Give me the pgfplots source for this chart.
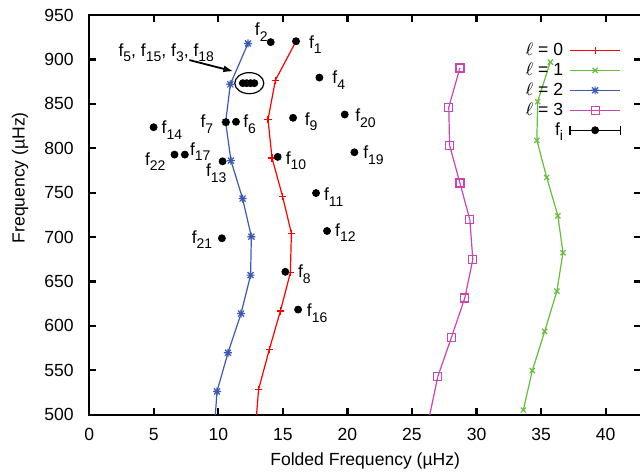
\documentclass[border=0pt]{standalone}
\usepackage{pgfplots}
\pgfplotsset{compat=1.18}
\usepackage{fontspec}
\setmainfont{Liberation Sans}
\usetikzlibrary{arrows.meta}

\definecolor{gpred}{RGB}{255,0,0}
\definecolor{gpgreen}{RGB}{100,190,60}
\definecolor{gpblue}{RGB}{60,90,180}
\definecolor{gpmag}{RGB}{200,70,180}

\pgfdeclareplotmark{gpstar}{%
  \pgfpathmoveto{\pgfqpoint{-\pgfplotmarksize}{0pt}}\pgfpathlineto{\pgfqpoint{\pgfplotmarksize}{0pt}}%
  \pgfpathmoveto{\pgfqpoint{0pt}{-\pgfplotmarksize}}\pgfpathlineto{\pgfqpoint{0pt}{\pgfplotmarksize}}%
  \pgfpathmoveto{\pgfqpoint{-.75\pgfplotmarksize}{-.75\pgfplotmarksize}}\pgfpathlineto{\pgfqpoint{.75\pgfplotmarksize}{.75\pgfplotmarksize}}%
  \pgfpathmoveto{\pgfqpoint{-.75\pgfplotmarksize}{.75\pgfplotmarksize}}\pgfpathlineto{\pgfqpoint{.75\pgfplotmarksize}{-.75\pgfplotmarksize}}%
  \pgfusepathqstroke}

\newcommand{\ff}[1]{f\raisebox{-2.8bp}{\fontsize{7}{8}\selectfont #1}}

\pgfplotstableread{
x y
13.12 528.6
13.95 573.5
14.81 616.8
15.58 659.8
15.66 704.3
14.98 745.7
14.16 789.1
13.85 832.4
14.42 876.5
16.02 920.5
}\lzero
\pgfplotstableread{
x y
33.62 505.3
34.32 549.8
35.27 593.8
36.22 639.1
36.69 682.4
36.30 723.9
35.43 767.2
34.67 809.0
34.73 852.4
35.71 897.0
}\lone
\pgfplotstableread{
x y
9.90 526.3
10.75 569.8
11.76 613.9
12.50 657.2
12.56 700.5
11.88 743.4
10.98 786.1
10.57 829.4
10.93 872.0
12.30 918.0
}\ltwo
\pgfplotstableread{
x y
27.00 543.0
28.06 587.4
29.09 631.5
29.71 674.9
29.48 719.6
28.71 760.9
27.91 803.4
27.85 846.3
28.71 890.4
}\lthree
\pgfplotstableread{
x y
16.02 920.5
14.06 919.5
11.90 873.3
12.20 873.3
12.50 873.3
12.79 873.3
17.83 879.6
15.79 834.3
19.79 838.0
10.59 829.4
11.37 829.8
4.99 823.7
14.60 790.3
20.54 795.5
6.61 792.9
7.41 792.9
10.33 785.3
17.57 749.6
18.42 706.9
10.28 698.7
15.19 660.9
16.18 618.4
}\fdata

\begin{document}
\fontsize{8.8}{10.5}\selectfont
\begin{tikzpicture}
\begin{axis}[
  scale only axis, width=275.5bp, height=199.5bp,
  xmin=0, xmax=42.75, ymin=500, ymax=950,
  xtick={0,5,...,40}, ytick={500,550,...,950},
  tick align=inside, major tick length=3.5bp,
  axis line style={line width=1.1bp},
  every tick/.style={black, line width=1.1bp},
  tick label style={font=\fontsize{8.8}{10}\selectfont},
  /pgf/number format/assume math mode=true,
  xticklabel style={inner sep=0pt, anchor=north, yshift=-6.5bp},
  yticklabel style={inner sep=0pt, anchor=east, xshift=-7.5bp},
  xlabel={Folded Frequency (µHz)}, ylabel={Frequency (µHz)},
  label style={font=\fontsize{8.8}{10}\selectfont},
  xlabel style={at={(axis description cs:0.5,-0.1165)}, anchor=center},
  ylabel style={at={(axis description cs:-0.125,0.593)}, anchor=center},
  legend style={draw=none, fill=none, at={(rel axis cs:1,1)}, anchor=north east,
    xshift=-10bp, yshift=-12.5bp, inner sep=0pt, row sep=0pt, column sep=2bp,
    font=\fontsize{8.8}{10}\selectfont, nodes={inner sep=1.2bp}},
  legend cell align=right, legend plot pos=right,
  legend image code/.code={\draw[mark repeat=2,mark phase=2] plot coordinates {(0bp,0bp) (12.5bp,0bp) (25bp,0bp)};},
]
\addplot[gpred, line width=0.6bp, mark=+, mark size=1.8bp] table {\lzero};
\addlegendentry{$\ell$ = 0}
\addplot[gpgreen, line width=0.6bp, mark=x, mark size=1.8bp] table {\lone};
\addlegendentry{$\ell$ = 1}
\addplot[gpblue, line width=0.6bp, mark=gpstar, mark size=2bp] table {\ltwo};
\addlegendentry{$\ell$ = 2}
\addplot[gpmag, line width=0.6bp, mark=square, mark size=2bp] table {\lthree};
\addlegendentry{$\ell$ = 3}
\addplot[only marks, black, mark=*, mark size=1.75bp,
  legend image code/.code={%
    \draw[black, line width=0.6bp] (0bp,0bp)--(25bp,0bp) (0bp,-2.2bp)--(0bp,2.2bp) (25bp,-2.2bp)--(25bp,2.2bp);
    \fill[black] (12.5bp,0bp) circle (1.75bp);}] table {\fdata};
\addlegendentry{\ff{i}}
% extensions to the lower border
\addplot[gpred, line width=0.6bp, forget plot] coordinates {(12.88,485) (13.12,528.6)};
\addplot[gpblue, line width=0.6bp, forget plot] coordinates {(9.69,483) (9.90,526.3)};
\addplot[gpmag, line width=0.6bp, forget plot] coordinates {(26.37,499.5) (27.00,543.0)};
% labels
\node at (axis cs:17.52,916.5) {\ff{1}};
\node at (axis cs:13.33,930.8) {\ff{2}};
\node at (axis cs:19.33,877.0) {\ff{4}};
\node at (axis cs:6.41,820.5) {\ff{14}};
\node at (axis cs:9.12,827.3) {\ff{7}};
\node at (axis cs:12.43,827.3) {\ff{6}};
\node at (axis cs:17.19,829.9) {\ff{9}};
\node at (axis cs:21.40,834.1) {\ff{20}};
\node at (axis cs:16.02,785.9) {\ff{10}};
\node at (axis cs:22.02,792.3) {\ff{19}};
\node at (axis cs:5.12,784.8) {\ff{22}};
\node at (axis cs:8.60,796.0) {\ff{17}};
\node at (axis cs:9.84,771.7) {\ff{13}};
\node at (axis cs:18.94,745.3) {\ff{11}};
\node at (axis cs:19.84,705.1) {\ff{12}};
\node at (axis cs:8.74,697.2) {\ff{21}};
\node at (axis cs:16.67,658.0) {\ff{8}};
\node at (axis cs:17.65,614.3) {\ff{16}};
\node at (axis cs:5.97,907.4) {\ff{5}, \ff{15}, \ff{3}, \ff{18}};
\draw[-{Latex[length=5bp,width=3.5bp]}, line width=0.9bp] (axis cs:7.76,899.3) -- (axis cs:11.17,886.6);
\draw[line width=0.6bp] (axis cs:12.4,873.3) ellipse [x radius=7.25bp, y radius=5.25bp];
\end{axis}
\pgfresetboundingbox
\useasboundingbox ([xshift=-44.5bp,yshift=-28.5bp]current axis.south west) rectangle ([xshift=-0.6bp,yshift=7.5bp]current axis.north east);
\end{tikzpicture}
\end{document}
